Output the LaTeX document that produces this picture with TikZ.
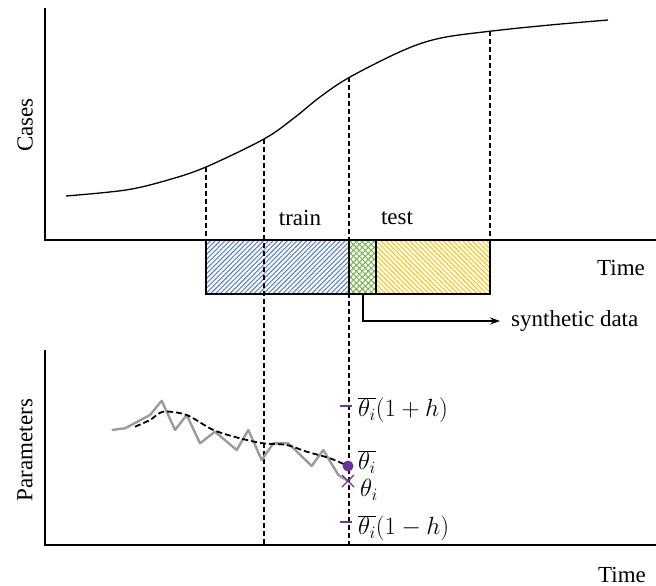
\documentclass[tikz,border=0pt]{standalone}
\usepackage{fontspec}
\setmainfont{Liberation Serif}
\usetikzlibrary{patterns.meta,arrows.meta}
\definecolor{hblue}{RGB}{90,130,205}
\definecolor{hgreen}{RGB}{120,180,80}
\definecolor{hyellow}{RGB}{255,192,0}
\definecolor{tpurple}{RGB}{112,48,160}
\definecolor{tgray}{RGB}{155,155,155}
\begin{document}
\begin{tikzpicture}[x=1pt,y=-1pt,
  axis/.style={line width=1.2pt},
  guide/.style={line width=1.1pt,dash pattern=on 5pt off 3pt},
  lbl/.style={font=\fontsize{23}{27}\selectfont,inner sep=1pt},
  mlbl/.style={font=\fontsize{24.5}{28}\selectfont,inner sep=1pt,anchor=west},
  tickm/.style={tpurple,line width=2pt}]
\useasboundingbox (0,0) rectangle (656,586);
% top axes
\coordinate (ty) at (45,8);
\coordinate (to) at (45,240);
\coordinate (tx) at (656,240);
\draw[axis] (ty) -- (to) -- (tx);
\node[lbl,rotate=90] (cases) at (25,125) {Cases};
\node[lbl] (time1) at (621,268) {Time};
% curve
\draw[line width=1.3pt] plot[smooth,tension=0.55] coordinates {(66,196) (126,190) (168,180) (206,167) (264,139) (294,118) (320,97) (350,77) (404,50) (441,38) (492,31) (550,25) (608,20)};
% boxes
\fill[pattern={Lines[angle=45,distance=3.4pt,line width=1.1pt]},pattern color=hblue] (206,240) rectangle (349,294);
\fill[pattern={Hatch[angle=45,distance=4.2pt,line width=1pt]},pattern color=hgreen] (349,240) rectangle (376,294);
\fill[pattern={Lines[angle=-45,distance=3.4pt,line width=1pt]},pattern color=hyellow] (376,240) rectangle (490,294);
\draw[line width=1.2pt] (206,240) rectangle (490,294);
\draw[line width=1.2pt] (349,240) -- (349,294) (376,240) -- (376,294);
\node[lbl] (train) at (300,218) {train};
\node[lbl] (test) at (397,218) {test};
% synthetic arrow
\coordinate (sa) at (363,294);
\node[lbl,anchor=west,inner xsep=11pt] (syn) at (500,321) {synthetic data};
\draw[line width=1.2pt,-{Stealth[length=10pt,width=7pt]}] (sa) |- (syn.west);
% guides
\draw[guide] (206,167) -- (206,240);
\draw[guide] (264,139) -- (264,545);
\draw[guide] (349,77) -- (349,545);
\draw[guide] (490,31) -- (490,240);
% bottom axes
\coordinate (by) at (45,350);
\coordinate (bo) at (45,545);
\coordinate (bx) at (656,545);
\draw[axis] (by) -- (bo) -- (bx);
\node[lbl,rotate=90] (params) at (25,450) {Parameters};
\node[lbl] (time2) at (622,575) {Time};
% gray series
\draw[tgray,line width=2.4pt,line join=round] (111.7,430) -- (125,428.3) -- (150,415) -- (161.7,400.7) -- (175,430) -- (186.7,415) -- (200,443.3) -- (215,431.7) -- (236.7,450) -- (248.3,430) -- (261.7,460) -- (273.3,443.3) -- (288.3,443.3) -- (311.7,466) -- (323.3,450) -- (338.3,475) -- (348,481);
% dashed smooth
\draw[line width=1.8pt,dash pattern=on 6pt off 3pt] plot[smooth,tension=0.5] coordinates {(135,426.7) (150,420) (163.3,411.7) (186.7,415) (213.3,430) (240,438.3) (263.3,443.3) (286.7,445) (306.7,451.7) (330,458.3) (348,466)};
% markers
\fill[tpurple] (348,466) circle (5.5pt);
\draw[tpurple,line width=1.4pt] (342,475) -- (354,487) (342,487) -- (354,475);
\draw[tickm] (340,406) -- (352,406);
\draw[tickm] (340,522) -- (352,522);
\node[mlbl] (up) at (357,410) {$\overline{\theta_i}(1+h)$};
\node[mlbl] (mean) at (357,462) {$\overline{\theta_i}$};
\node[mlbl] (th) at (359,490) {$\theta_i$};
\node[mlbl] (lo) at (357,528) {$\overline{\theta_i}(1-h)$};
\end{tikzpicture}
\end{document}
